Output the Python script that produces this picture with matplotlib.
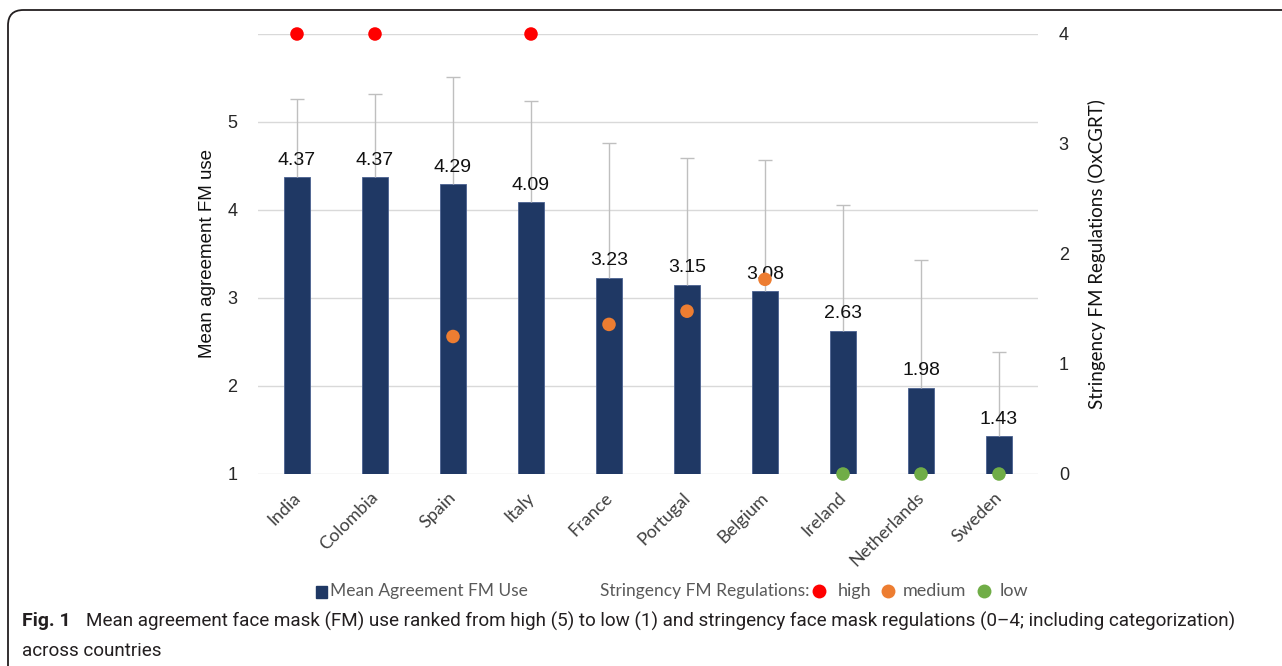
import numpy as np
import matplotlib
matplotlib.use('Agg')
import matplotlib.pyplot as plt
import matplotlib.transforms as mtransforms
from matplotlib.patches import FancyBboxPatch, Rectangle
from matplotlib.lines import Line2D

countries = ['India', 'Colombia', 'Spain', 'Italy', 'France', 'Portugal',
             'Belgium', 'Ireland', 'Netherlands', 'Sweden']
mean_fm = [4.37, 4.37, 4.29, 4.09, 3.23, 3.15, 3.08, 2.63, 1.98, 1.43]
sd_fm = [0.89, 0.95, 1.22, 1.15, 1.53, 1.44, 1.49, 1.43, 1.45, 0.96]
stringency = [4, 4, 1.25, 4, 1.36, 1.48, 1.77, 0, 0, 0]
category = ['high', 'high', 'medium', 'high', 'medium', 'medium', 'medium',
            'low', 'low', 'low']
cat_colors = {'high': '#ff0000', 'medium': '#ed7d31', 'low': '#70ad47'}

NAVY = '#1f3864'
TXT = '#262626'
W, H = 1282, 666

fig = plt.figure(figsize=(W / 100, H / 100), dpi=100)

# rounded frame (runs off right/bottom edge)
frame = FancyBboxPatch((8 / W, -0.3), 1.5, 1.3 - 10 / H,
                       transform=fig.transFigure,
                       boxstyle='round,pad=0,rounding_size=0.012',
                       fill=False, ec='#231f20', lw=1.3,
                       mutation_aspect=W / H)
fig.patches.append(frame)

ax = fig.add_axes([258 / W, 1 - 474 / H, 780 / W, 440 / H])
x = np.arange(len(countries))
tops = np.array(mean_fm) + np.array(sd_fm)

ax.bar(x, np.array(mean_fm) - 1, bottom=1, width=0.34, color=NAVY,
       edgecolor='#4a6190', lw=0.6, zorder=2)
ax.errorbar(x, mean_fm, yerr=[np.zeros(len(x)), sd_fm], fmt='none',
            ecolor='#bfbfbf', elinewidth=1, capsize=0, zorder=3)
ax.plot(x, tops, ls='none', marker='_', ms=10, mew=1, color='#bfbfbf',
        zorder=3)
for xi, m in zip(x, mean_fm):
    ax.annotate(f'{m:.2f}', (xi, m), xytext=(0, 6), textcoords='offset points',
                ha='center', va='bottom', fontsize=14,
                family='Liberation Sans', color='#111111', zorder=4)

ax.set_xlim(-0.5, len(x) - 0.5)
ax.set_ylim(1, 6)
ax.set_yticks([1, 2, 3, 4, 5, 6])
ax.set_yticklabels(['1', '2', '3', '4', '5', ''], family='Liberation Sans',
                   fontsize=13, color=TXT)
ax.yaxis.grid(True, color='#d9d9d9', lw=1)
ax.set_axisbelow(True)
ax.tick_params(axis='y', length=0, pad=15)
ax.set_xticks(x)
ax.set_xticklabels(countries, rotation=45, ha='right', rotation_mode='anchor',
                   family='Lato', fontsize=13, color='#404040')
ax.tick_params(axis='x', length=0, pad=11)
offset = mtransforms.ScaledTranslation(-5 / 100, 0, fig.dpi_scale_trans)
for lab in ax.get_xticklabels():
    lab.set_transform(lab.get_transform() + offset)
for s in ax.spines.values():
    s.set_visible(False)

ax2 = ax.twinx()
ax2.scatter(x, stringency, s=95, c=[cat_colors[c] for c in category],
            zorder=5, clip_on=False, linewidths=0)
ax2.set_ylim(0, 4)
ax2.set_yticks([0, 1, 2, 3, 4])
ax2.set_yticklabels(['0', '1', '2', '3', '4'], family='Liberation Sans',
                    fontsize=13, color=TXT)
ax2.tick_params(axis='y', length=0, pad=15)
for s in ax2.spines.values():
    s.set_visible(False)

fig.text(207 / W, 1 - 254 / H, 'Mean agreement FM use', rotation=90,
         ha='center', va='center', family='Liberation Sans', fontsize=13.5,
         color='#111111')
fig.text(1097 / W, 1 - 254 / H, 'Stringency FM Regulations (OxCGRT)',
         rotation=90, ha='center', va='center', family='Lato', fontsize=13.5,
         color='#111111')

# legend
ly = 1 - 591 / H
fig.patches.append(Rectangle((316 / W, 1 - 598 / H), 11 / W, 12 / H,
                             transform=fig.transFigure, color=NAVY))
fig.text(330 / W, ly, 'Mean Agreement FM Use', family='Lato', fontsize=12.5,
         color='#595959', va='center')
fig.text(600 / W, ly, 'Stringency FM Regulations:', family='Lato',
         fontsize=12.5, color='#595959', va='center')
for cx, tx, name in [(819, 838, 'high'), (888, 903, 'medium'), (984, 1000, 'low')]:
    fig.lines.append(Line2D([cx / W], [ly], marker='o', ms=10, mew=0,
                            color=cat_colors[name], transform=fig.transFigure))
    fig.text(tx / W, ly, name, family='Lato', fontsize=13, color='#595959',
             va='center')

# caption
cap_font = 'Roboto'
fig.text(22 / W, 1 - 621 / H, 'Fig. 1', family=cap_font, weight='bold',
         fontsize=14, color='#231f20', va='center')
line1 = fig.text(86 / W, 1 - 621 / H,
                 'Mean agreement face mask (FM) use ranked from high (5) to low (1) '
                 'and stringency face mask regulations (0\u20134; including categorization)',
                 family=cap_font, fontsize=14, color='#231f20', va='center')
line2 = fig.text(22 / W, 1 - 651 / H, 'across countries', family=cap_font,
                 fontsize=14, color='#231f20', va='center')

fig.canvas.draw()
wid = line1.get_window_extent().width
fs = 14 * (1245 - 86) / wid
line1.set_fontsize(fs)
line2.set_fontsize(fs)

fig.savefig('out.png', dpi=100)
